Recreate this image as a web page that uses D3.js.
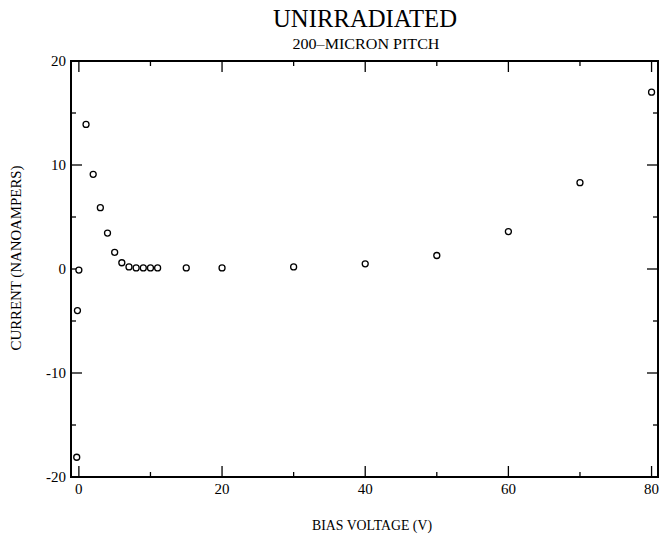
<!DOCTYPE html>
<html>
<head>
<meta charset="utf-8">
<script src="https://cdn.jsdelivr.net/npm/d3@7"></script>
<style>
  body { margin: 0; background: #fff; }
</style>
</head>
<body>
<div id="chart"></div>
<script>
// bias voltage (V) and leakage current (nA)
var voltage = [-0.3, -0.2, 0, 1, 2, 3, 4, 5, 6, 7, 8, 9, 10, 11, 15, 20, 30, 40, 50, 60, 70, 80];
var current = [-18.1, -4.0, -0.1, 13.9, 9.1, 5.9, 3.45, 1.6, 0.6, 0.2, 0.1, 0.1, 0.1, 0.1, 0.1, 0.1, 0.2, 0.5, 1.3, 3.6, 8.3, 17.0];

var xMajor = [0, 20, 40, 60, 80];
var xMinor = [10, 30, 50, 70];
var yMajor = [-20, -10, 0, 10, 20];
var yMinor = [-15, -5, 5, 15];

var width = 661, height = 538;
var margin = { top: 61, right: 3, bottom: 61, left: 71 };
var serif = "'Liberation Serif', 'Times New Roman', Times, serif";

var svg = d3.select("#chart")
    .append("svg")
    .attr("width", width)
    .attr("height", height)
    .attr("font-family", serif);

var x = d3.scaleLinear()
    .domain([-1.1, 80.9])
    .range([margin.left, width - margin.right]);

var y = d3.scaleLinear()
    .domain([-20, 20])
    .range([height - margin.bottom, margin.top]);

var x0 = margin.left, x1 = width - margin.right;
var y0 = height - margin.bottom, y1 = margin.top;

// ticks pointing inward on all four sides
var ticks = svg.append("g").attr("stroke", "#000").attr("stroke-width", 1.3);

function vTicks(vals, len) {
    vals.forEach(function (v) {
        ticks.append("line").attr("x1", x(v)).attr("x2", x(v)).attr("y1", y0).attr("y2", y0 - len);
        ticks.append("line").attr("x1", x(v)).attr("x2", x(v)).attr("y1", y1).attr("y2", y1 + len);
    });
}
function hTicks(vals, len) {
    vals.forEach(function (v) {
        ticks.append("line").attr("y1", y(v)).attr("y2", y(v)).attr("x1", x0).attr("x2", x0 + len);
        ticks.append("line").attr("y1", y(v)).attr("y2", y(v)).attr("x1", x1).attr("x2", x1 - len);
    });
}
vTicks(xMajor, 11);
vTicks(xMinor, 5);
hTicks(yMajor.slice(1, -1), 11);
hTicks(yMinor, 5);

// frame
svg.append("rect")
    .attr("x", x0).attr("y", y1)
    .attr("width", x1 - x0).attr("height", y0 - y1)
    .attr("fill", "none")
    .attr("stroke", "#000")
    .attr("stroke-width", 2);

// tick labels
svg.selectAll(".xlab")
    .data(xMajor)
    .enter()
    .append("text")
    .attr("x", function (d) { return x(d); })
    .attr("y", y0 + 17)
    .attr("text-anchor", "middle")
    .attr("font-size", 15)
    .text(function (d) { return d; });

svg.selectAll(".ylab")
    .data(yMajor)
    .enter()
    .append("text")
    .attr("x", x0 - 5)
    .attr("y", function (d) { return y(d) + 5; })
    .attr("text-anchor", "end")
    .attr("font-size", 15)
    .text(function (d) { return d; });

// points
svg.selectAll(".pt")
    .data(voltage)
    .enter()
    .append("circle")
    .attr("cx", function (d) { return x(d); })
    .attr("cy", function (d, i) { return y(current[i]); })
    .attr("r", 3)
    .attr("fill", "#fff")
    .attr("stroke", "#000")
    .attr("stroke-width", 1.3);

// titles
svg.append("text")
    .attr("x", 365).attr("y", 27)
    .attr("text-anchor", "middle")
    .attr("font-size", 26)
    .attr("textLength", 184)
    .attr("lengthAdjust", "spacingAndGlyphs")
    .text("UNIRRADIATED");

svg.append("text")
    .attr("x", 366).attr("y", 49)
    .attr("text-anchor", "middle")
    .attr("font-size", 15)
    .attr("textLength", 147)
    .attr("lengthAdjust", "spacingAndGlyphs")
    .text("200\u2013MICRON PITCH");

svg.append("text")
    .attr("x", 372).attr("y", 530)
    .attr("text-anchor", "middle")
    .attr("font-size", 15)
    .attr("textLength", 120)
    .attr("lengthAdjust", "spacingAndGlyphs")
    .text("BIAS VOLTAGE (V)");

svg.append("text")
    .attr("transform", "translate(21,258) rotate(-90)")
    .attr("text-anchor", "middle")
    .attr("font-size", 15)
    .attr("textLength", 185)
    .attr("lengthAdjust", "spacingAndGlyphs")
    .text("CURRENT (NANOAMPERS)");
</script>
</body>
</html>
